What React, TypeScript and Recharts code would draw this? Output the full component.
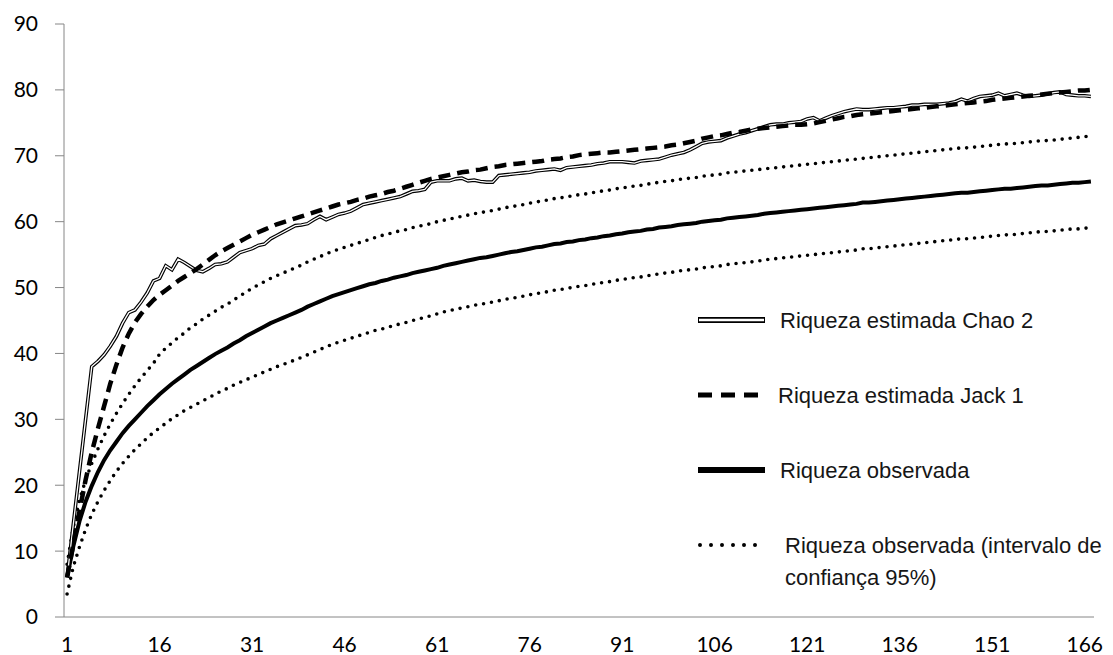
import { Line, LineChart, XAxis, YAxis } from "recharts";

// samples 1..167
const categories = Array.from({ length: 167 }, (_, i) => i + 1);
const xTickLabels = [1, 16, 31, 46, 61, 76, 91, 106, 121, 136, 151, 166];
const xTickMarks = Array.from({ length: 34 }, (_, k) => 0.5 + 5 * k);
const yTicks = [0, 10, 20, 30, 40, 50, 60, 70, 80, 90];

const chao2 = [
  6.0, 14.0, 22.0, 30.0, 38.0, 38.8, 39.8, 41.1, 42.6, 44.6,
  46.2, 46.6, 47.8, 49.2, 51.0, 51.4, 53.3, 52.7, 54.3, 53.8,
  53.2, 52.6, 52.4, 52.9, 53.5, 53.6, 53.9, 54.6, 55.3, 55.6,
  55.9, 56.4, 56.6, 57.4, 57.9, 58.4, 58.9, 59.4, 59.5, 59.7,
  60.3, 60.8, 60.3, 60.7, 61.1, 61.3, 61.6, 62.1, 62.6, 62.8,
  63.0, 63.2, 63.4, 63.6, 63.8, 64.2, 64.6, 64.7, 64.9, 66.0,
  66.2, 66.2, 66.2, 66.5, 66.6, 66.2, 66.3, 66.1, 66.0, 66.0,
  67.0, 67.1, 67.2, 67.3, 67.4, 67.5, 67.7, 67.8, 67.9, 68.0,
  67.8, 68.2, 68.3, 68.4, 68.5, 68.6, 68.8, 68.9, 69.1, 69.1,
  69.1, 69.0, 68.9, 69.2, 69.3, 69.4, 69.5, 69.8, 70.1, 70.3,
  70.5, 70.9, 71.4, 71.9, 72.1, 72.2, 72.3, 72.7, 73.0, 73.3,
  73.5, 73.8, 74.1, 74.4, 74.7, 74.8, 74.8, 75.0, 75.1, 75.2,
  75.6, 75.8, 75.3, 75.7, 76.1, 76.4, 76.7, 76.9, 77.1, 77.0,
  77.0, 77.1, 77.2, 77.3, 77.3, 77.4, 77.5, 77.7, 77.7, 77.8,
  77.8, 77.8, 77.9, 78.0, 78.2, 78.6, 78.3, 78.7, 79.0, 79.1,
  79.2, 79.5, 79.1, 79.3, 79.5, 79.2, 79.0, 79.1, 79.2, 79.4,
  79.6, 79.7, 79.3, 79.2, 79.1, 79.1, 79.0,
];

const jack1 = [
  6.0, 11.0, 16.0, 20.8, 25.0, 28.6, 32.0, 35.4, 38.3, 40.9,
  43.0, 44.7, 46.0, 47.1, 48.1, 48.9, 49.6, 50.3, 51.0, 51.6,
  52.2, 52.8, 53.5, 54.2, 54.9, 55.5, 56.0, 56.5, 57.0, 57.5,
  58.0, 58.4, 58.8, 59.2, 59.6, 59.9, 60.2, 60.5, 60.8, 61.1,
  61.4, 61.7, 62.0, 62.3, 62.6, 62.8, 63.0, 63.3, 63.5, 63.8,
  64.0, 64.2, 64.5, 64.7, 65.0, 65.3, 65.6, 65.9, 66.2, 66.5,
  66.7, 66.9, 67.1, 67.3, 67.5, 67.6, 67.8, 67.9, 68.1, 68.3,
  68.4, 68.6, 68.7, 68.8, 68.9, 69.0, 69.1, 69.2, 69.4, 69.5,
  69.6, 69.8, 69.9, 70.1, 70.2, 70.3, 70.4, 70.5, 70.5, 70.6,
  70.7, 70.8, 70.9, 71.0, 71.1, 71.2, 71.3, 71.4, 71.6, 71.7,
  71.9, 72.1, 72.3, 72.6, 72.8, 73.0, 73.1, 73.3, 73.5, 73.6,
  73.8, 74.0, 74.1, 74.2, 74.3, 74.4, 74.5, 74.6, 74.7, 74.7,
  74.8, 74.9, 75.1, 75.3, 75.5, 75.7, 75.9, 76.0, 76.2, 76.3,
  76.4, 76.5, 76.6, 76.7, 76.8, 76.9, 77.0, 77.1, 77.2, 77.3,
  77.4, 77.5, 77.6, 77.7, 77.8, 77.9, 78.0, 78.1, 78.2, 78.3,
  78.5, 78.6, 78.7, 78.8, 78.9, 79.0, 79.1, 79.2, 79.3, 79.4,
  79.5, 79.6, 79.7, 79.8, 79.9, 79.9, 80.0,
];

const observed = [
  6.0, 10.7, 14.5, 17.5, 19.9, 22.0, 23.8, 25.3, 26.6, 27.9,
  29.0, 30.0, 31.0, 32.0, 32.9, 33.8, 34.6, 35.4, 36.1, 36.8,
  37.5, 38.1, 38.7, 39.3, 39.9, 40.4, 40.9, 41.5, 42.0, 42.6,
  43.1, 43.6, 44.1, 44.6, 45.0, 45.4, 45.8, 46.2, 46.6, 47.1,
  47.5, 47.9, 48.3, 48.7, 49.0, 49.3, 49.6, 49.9, 50.2, 50.5,
  50.7, 51.0, 51.2, 51.5, 51.7, 51.9, 52.2, 52.4, 52.6, 52.8,
  53.0, 53.3, 53.5, 53.7, 53.9, 54.1, 54.3, 54.5, 54.6, 54.8,
  55.0, 55.2, 55.4, 55.5, 55.7, 55.9, 56.1, 56.2, 56.4, 56.6,
  56.7, 56.9, 57.0, 57.2, 57.3, 57.5, 57.6, 57.8, 57.9, 58.1,
  58.2, 58.4, 58.5, 58.6, 58.8, 58.9, 59.1, 59.2, 59.3, 59.5,
  59.6, 59.7, 59.8, 60.0, 60.1, 60.2, 60.3, 60.5, 60.6, 60.7,
  60.8, 60.9, 61.0, 61.2, 61.3, 61.4, 61.5, 61.6, 61.7, 61.8,
  61.9, 62.0, 62.1, 62.2, 62.3, 62.4, 62.5, 62.6, 62.7, 62.9,
  62.9, 63.0, 63.1, 63.2, 63.3, 63.4, 63.5, 63.6, 63.7, 63.8,
  63.9, 64.0, 64.1, 64.2, 64.3, 64.4, 64.4, 64.5, 64.6, 64.7,
  64.8, 64.9, 65.0, 65.0, 65.1, 65.2, 65.3, 65.4, 65.5, 65.5,
  65.6, 65.7, 65.8, 65.9, 65.9, 66.0, 66.1,
];

const upper95 = [
  8.0, 13.6, 17.7, 20.8, 23.3, 25.5, 27.5, 29.3, 30.9, 32.4,
  33.8, 35.1, 36.3, 37.4, 38.5, 39.9, 40.8, 41.6, 42.4, 43.1,
  43.9, 44.5, 45.2, 45.8, 46.4, 47.0, 47.5, 48.1, 48.7, 49.3,
  49.9, 50.4, 50.9, 51.4, 51.8, 52.2, 52.6, 53.0, 53.4, 53.9,
  54.3, 54.7, 55.1, 55.5, 55.8, 56.1, 56.4, 56.7, 57.0, 57.3,
  57.6, 57.9, 58.1, 58.4, 58.6, 58.8, 59.1, 59.3, 59.5, 59.7,
  60.0, 60.2, 60.4, 60.6, 60.8, 61.0, 61.2, 61.4, 61.5, 61.7,
  61.9, 62.1, 62.3, 62.4, 62.6, 62.8, 63.0, 63.1, 63.3, 63.5,
  63.6, 63.8, 63.9, 64.1, 64.2, 64.4, 64.5, 64.7, 64.8, 65.0,
  65.1, 65.3, 65.4, 65.5, 65.7, 65.8, 66.0, 66.1, 66.2, 66.4,
  66.5, 66.6, 66.7, 66.9, 67.0, 67.1, 67.2, 67.4, 67.5, 67.6,
  67.7, 67.8, 67.9, 68.0, 68.1, 68.2, 68.3, 68.4, 68.5, 68.6,
  68.7, 68.8, 68.9, 69.0, 69.1, 69.2, 69.3, 69.4, 69.5, 69.6,
  69.7, 69.8, 69.9, 70.0, 70.1, 70.2, 70.3, 70.4, 70.5, 70.6,
  70.7, 70.8, 70.9, 71.0, 71.1, 71.2, 71.2, 71.3, 71.4, 71.5,
  71.6, 71.7, 71.8, 71.8, 71.9, 72.0, 72.1, 72.2, 72.3, 72.3,
  72.4, 72.5, 72.6, 72.7, 72.8, 72.9, 73.0,
];

const lower95 = [
  3.5, 7.6, 10.6, 13.3, 15.6, 17.5, 19.2, 20.7, 22.1, 23.3,
  24.4, 25.4, 26.3, 27.2, 28.0, 28.7, 29.4, 30.1, 30.7, 31.3,
  31.8, 32.3, 32.8, 33.3, 33.8, 34.3, 34.7, 35.2, 35.6, 36.0,
  36.4, 36.8, 37.2, 37.6, 38.0, 38.3, 38.7, 39.0, 39.4, 39.8,
  40.2, 40.6, 41.0, 41.4, 41.7, 42.0, 42.3, 42.6, 42.9, 43.2,
  43.5, 43.7, 44.0, 44.2, 44.5, 44.7, 45.0, 45.2, 45.5, 45.7,
  46.0, 46.3, 46.5, 46.7, 46.9, 47.1, 47.3, 47.5, 47.6, 47.8,
  48.0, 48.2, 48.4, 48.5, 48.7, 48.9, 49.1, 49.2, 49.4, 49.6,
  49.7, 49.9, 50.0, 50.2, 50.3, 50.5, 50.6, 50.8, 50.9, 51.1,
  51.2, 51.4, 51.5, 51.6, 51.8, 51.9, 52.1, 52.2, 52.3, 52.5,
  52.6, 52.7, 52.8, 53.0, 53.1, 53.2, 53.3, 53.5, 53.6, 53.7,
  53.8, 53.9, 54.0, 54.2, 54.3, 54.4, 54.5, 54.6, 54.7, 54.8,
  54.9, 55.0, 55.1, 55.2, 55.3, 55.4, 55.5, 55.6, 55.7, 55.9,
  55.9, 56.0, 56.1, 56.2, 56.3, 56.4, 56.5, 56.6, 56.7, 56.8,
  56.9, 57.0, 57.1, 57.2, 57.3, 57.4, 57.4, 57.5, 57.6, 57.7,
  57.8, 57.9, 58.0, 58.0, 58.1, 58.2, 58.3, 58.4, 58.5, 58.5,
  58.6, 58.7, 58.8, 58.9, 58.9, 59.0, 59.1,
];

const data = categories.map((x, i) => ({
  x,
  chao2: chao2[i],
  jack1: jack1[i],
  observed: observed[i],
  upper95: upper95[i],
  lower95: lower95[i],
}));

const tickFont = { fill: "#000", fontSize: 21, fontFamily: "Lato, 'Open Sans', sans-serif" };
const legendFont = { fontFamily: "'Liberation Sans', Arial, sans-serif", fontSize: 22, fill: "#161616" };
const axisGrey = "#868686";

function Legend() {
  return (
    <svg
      width={423}
      height={310}
      style={{ position: "absolute", left: 690, top: 295 }}
    >
      <line x1={8} y1={25} x2={75} y2={25} stroke="#000" strokeWidth={6} />
      <line x1={9} y1={25} x2={74} y2={25} stroke="#fff" strokeWidth={2.5} />
      <text x={90} y={25} dominantBaseline="central" {...legendFont}>Riqueza estimada Chao 2</text>

      <line x1={8} y1={100} x2={68} y2={100} stroke="#000" strokeWidth={5} strokeDasharray="14 9" />
      <text x={88} y={100} dominantBaseline="central" {...legendFont}>Riqueza estimada Jack 1</text>

      <line x1={8} y1={175} x2={75} y2={175} stroke="#000" strokeWidth={6} />
      <text x={90} y={175} dominantBaseline="central" {...legendFont}>Riqueza observada</text>

      <line x1={10} y1={250} x2={68} y2={250} stroke="#000" strokeWidth={4} strokeDasharray="0 11" strokeLinecap="round" />
      <text x={95} y={250} dominantBaseline="central" {...legendFont}>Riqueza observada (intervalo de</text>
      <text x={95} y={282} dominantBaseline="central" {...legendFont}>confiança 95%)</text>
    </svg>
  );
}

export default function App() {
  return (
    <div style={{ position: "absolute", left: 0, top: 0, width: 1113, height: 655, background: "#fff" }}>
      <LineChart width={1113} height={655} data={data} margin={{ top: 24, right: 19, bottom: 0, left: 0 }}>
        {/* axis 0: line + tick marks between sample groups; axis 1: the labels */}
        <XAxis
          xAxisId={0}
          dataKey="x"
          type="number"
          domain={[0.5, 167.5]}
          ticks={xTickMarks}
          interval={0}
          tick={false}
          tickSize={8}
          height={8}
          stroke={axisGrey}
          allowDataOverflow
        />
        <XAxis
          xAxisId={1}
          dataKey="x"
          type="number"
          domain={[0.5, 167.5]}
          ticks={xTickLabels}
          interval={0}
          axisLine={false}
          tickLine={false}
          tickSize={0}
          tickMargin={12}
          height={30}
          tick={tickFont}
          allowDataOverflow
        />
        <YAxis
          domain={[0, 90]}
          ticks={yTicks}
          interval={0}
          width={64}
          tickSize={9}
          tickMargin={17}
          stroke={axisGrey}
          tick={tickFont}
        />
        <Line xAxisId={0} dataKey="lower95" stroke="#000" strokeWidth={3.6} strokeDasharray="0 8" strokeLinecap="round" dot={false} isAnimationActive={false} />
        <Line xAxisId={0} dataKey="upper95" stroke="#000" strokeWidth={3.6} strokeDasharray="0 8" strokeLinecap="round" dot={false} isAnimationActive={false} />
        <Line xAxisId={0} dataKey="observed" stroke="#000" strokeWidth={4} dot={false} isAnimationActive={false} />
        <Line xAxisId={0} dataKey="chao2" stroke="#000" strokeWidth={3.6} dot={false} isAnimationActive={false} />
        <Line xAxisId={0} dataKey="chao2" stroke="#fff" strokeWidth={1.3} dot={false} isAnimationActive={false} />
        <Line xAxisId={0} dataKey="jack1" stroke="#000" strokeWidth={4.5} strokeDasharray="12 7" dot={false} isAnimationActive={false} />
      </LineChart>
      <Legend />
    </div>
  );
}
